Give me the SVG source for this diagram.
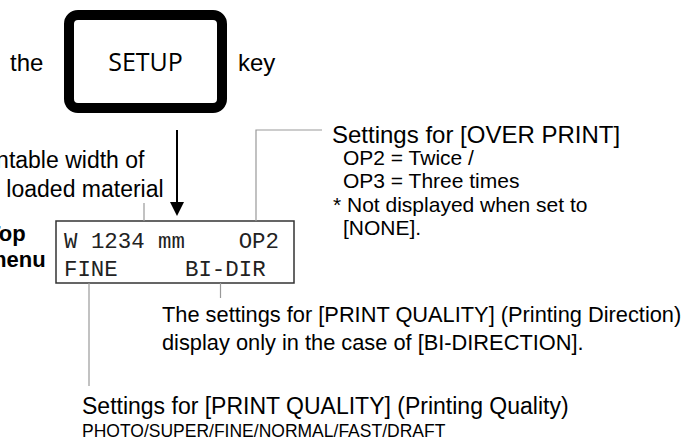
<svg xmlns="http://www.w3.org/2000/svg" width="684" height="446" viewBox="0 0 684 446">
<style>
.t{font-family:"Liberation Sans",Arial,sans-serif;fill:#000}
.m{font-family:"Liberation Mono","Courier New",monospace;font-size:22.4px;fill:#222}
.lead{stroke:#999;stroke-width:1.2;fill:none}
</style>
<rect width="684" height="446" fill="#fff"/>
<g id="setup-key">
<rect x="69" y="15" width="153" height="93" rx="9" fill="#fff" stroke="#000" stroke-width="10"/>
<text x="145.5" y="71" text-anchor="middle" font-family="'Open Sans','Noto Sans',sans-serif" font-size="25">SETUP</text>
<text class="t" x="10" y="71" font-size="24">the</text>
<text class="t" x="238" y="71" font-size="24">key</text>
</g>
<g id="width-label">
<text class="t" x="-32" y="168" font-size="23">Printable width of</text>
<text class="t" x="-32" y="197" font-size="23">the loaded material</text>
</g>
<g id="menu-label">
<text class="t" x="-13" y="241" font-size="22" font-weight="bold">Top</text>
<text class="t" x="-13" y="267" font-size="22" font-weight="bold">menu</text>
</g>
<g id="display">
<rect x="56" y="221" width="238" height="62" fill="#fff" stroke="#333" stroke-width="1.5"/>
<text class="m" y="248"><tspan x="64">W</tspan><tspan x="90.9">1234</tspan><tspan x="158">mm</tspan><tspan x="238.7">OP2</tspan></text>
<text class="m" y="276"><tspan x="64">FINE</tspan><tspan x="185">BI-DIR</tspan></text>
</g>
<g id="overprint-note">
<text class="t" x="332" y="142.5" font-size="24">Settings for [OVER PRINT]</text>
<text class="t" x="343" y="165" font-size="21">OP2 = Twice /</text>
<text class="t" x="343" y="188" font-size="21">OP3 = Three times</text>
<text class="t" x="333" y="212" font-size="21">* Not displayed when set to</text>
<text class="t" x="343" y="235" font-size="21">[NONE].</text>
</g>
<g id="direction-note">
<text class="t" x="162" y="322" font-size="21.8">The settings for [PRINT QUALITY] (Printing Direction)</text>
<text class="t" x="162" y="350" font-size="21.8">display only in the case of [BI-DIRECTION].</text>
</g>
<g id="quality-note">
<text class="t" x="82" y="414" font-size="23">Settings for [PRINT QUALITY] (Printing Quality)</text>
<text class="t" x="82" y="437" font-size="17.5">PHOTO/SUPER/FINE/NORMAL/FAST/DRAFT</text>
</g>
<g id="connectors">
<line x1="177" y1="130" x2="177" y2="204" stroke="#000" stroke-width="2"/>
<polygon points="170,202 184,202 177,216" fill="#000"/>
<line class="lead" x1="144" y1="203" x2="144" y2="221"/>
<polyline class="lead" points="322,130 256,130 256,221"/>
<line class="lead" x1="220.5" y1="283" x2="220.5" y2="298"/>
<line class="lead" x1="89" y1="283" x2="89" y2="386"/>
</g>
</svg>
